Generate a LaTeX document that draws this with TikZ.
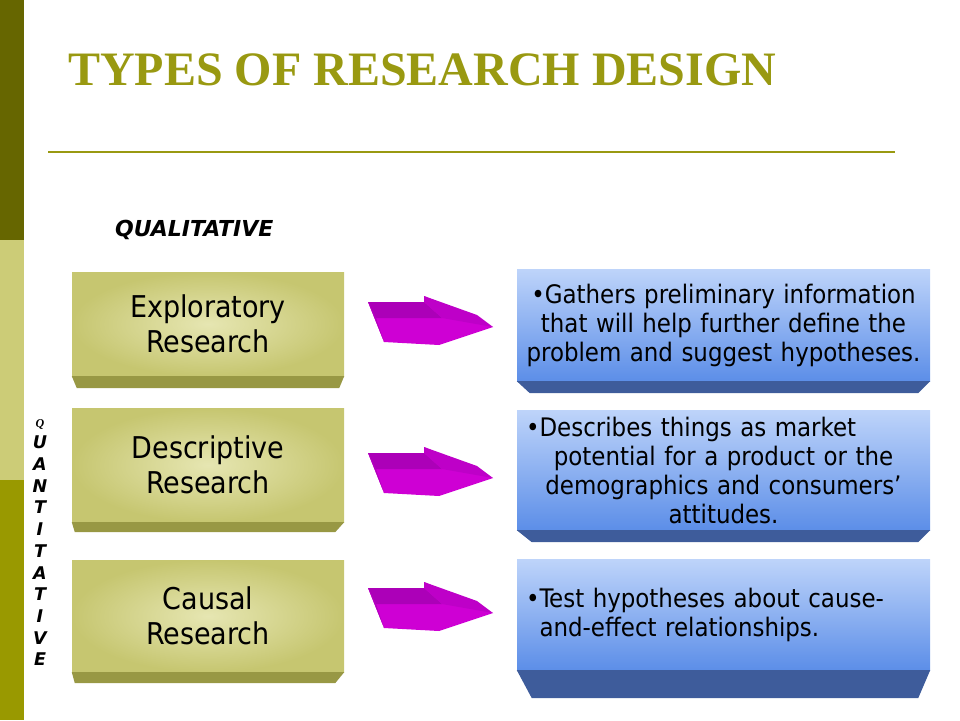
\documentclass[tikz,border=0pt]{standalone}
\usepackage{fontspec}
\setmainfont{DejaVu Sans Condensed}
\newfontfamily\titlefont{Liberation Serif}
\newfontfamily\labelfont{DejaVu Sans}
\newfontfamily\qfont{Liberation Serif}
\usepackage{xcolor}
\usepackage{tikz}
\definecolor{olivedark}{RGB}{102,102,0}
\definecolor{olivelight}{RGB}{204,204,119}
\definecolor{olivemid}{RGB}{153,153,0}
\definecolor{titleolive}{RGB}{153,153,17}
\definecolor{faceout}{RGB}{198,198,112}
\definecolor{facein}{RGB}{230,230,178}
\definecolor{bevelolive}{RGB}{152,152,68}
\definecolor{bluetop}{RGB}{190,212,250}
\definecolor{bluebot}{RGB}{92,142,232}
\definecolor{bluebevel}{RGB}{62,92,155}
\definecolor{magfront}{RGB}{206,0,212}
\definecolor{magtop}{RGB}{172,0,184}
\definecolor{maghead}{RGB}{190,0,200}

\begin{document}
\begin{tikzpicture}[x=1pt, y=-1pt,
    leftbox/.style={rectangle, shading=radial, inner color=facein, outer color=faceout, minimum width=272pt, inner sep=0pt, align=center, font=\fontsize{30}{35}\selectfont},
    rightbox/.style={rectangle, top color=bluetop, bottom color=bluebot, minimum width=413pt, text width=395pt, inner sep=0pt, font=\fontsize{25.5}{29}\selectfont},
    leftbevel/.style={fill=bevelolive},
    rightbevel/.style={fill=bluebevel},
    magarrow/.pic={
        \fill[magfront] (0,6) -- (56,6) -- (56,0) -- (125,31) -- (71,49) -- (16,46) -- cycle;
        \fill[magtop] (0,6) -- (56,6) -- (74,22) -- (8,22) -- cycle;
        \fill[maghead] (56,0) -- (109,19) -- (125,31) -- (74,22) -- (56,6) -- cycle;
        \fill[magtop!80!magfront] (0,6) -- (8,22) -- (16,46) -- cycle;
    }
]
    \useasboundingbox (0,0) rectangle (960,720);
    % side bar
    \fill[olivedark] (0,0) rectangle (24,240);
    \fill[olivelight] (0,240) rectangle (24,480);
    \fill[olivemid] (0,480) rectangle (24,720);

    % title
    \node[anchor=base west, inner sep=0pt, text=titleolive, font=\titlefont\bfseries\fontsize{48}{50}\selectfont] (title) at (68,85) {TYPES OF RESEARCH DESIGN};
    \draw[titleolive, line width=2.5pt] (48,152) -- (895,152);

    \node[anchor=base west, inner sep=0pt, font=\labelfont\bfseries\itshape\fontsize{22}{24}\selectfont] (qual) at (115,236) {QUALITATIVE};
    \node[anchor=north, inner sep=0pt, align=center, font=\labelfont\bfseries\itshape\fontsize{17.5}{21.7}\selectfont] (quant) at (40,419)
        {{\qfont\fontsize{12}{21.7}\selectfont Q}\\U\\A\\N\\T\\I\\T\\A\\T\\I\\V\\E};

    % left boxes
    \node[leftbox, minimum height=104pt] (expl) at (208,324) {Exploratory\\Research};
    \node[leftbox, minimum height=114pt] (desc) at (208,465) {Descriptive\\Research};
    \node[leftbox, minimum height=112pt] (caus) at (208,616) {Causal\\Research};
    \fill[leftbevel] (expl.south west) -- (expl.south east) -- ([xshift=-5pt,yshift=-12pt]expl.south east) -- ([xshift=5pt,yshift=-12pt]expl.south west) -- cycle;
    \fill[leftbevel] (desc.south west) -- (desc.south east) -- ([xshift=-9pt,yshift=-10pt]desc.south east) -- ([xshift=3pt,yshift=-10pt]desc.south west) -- cycle;
    \fill[leftbevel] (caus.south west) -- (caus.south east) -- ([xshift=-9pt,yshift=-11pt]caus.south east) -- ([xshift=3pt,yshift=-11pt]caus.south west) -- cycle;

    % right boxes
    \node[rightbox, align=center, minimum height=112pt] (gath) at (723.5,325) {•Gathers preliminary information\\that will help further define the\\problem and suggest hypotheses.\\[3pt]};
    \node[rightbox, align=center, minimum height=120pt] (descr) at (723.5,470) {\makebox[\linewidth][l]{•Describes things as market}\\potential for a product or the\\demographics and consumers’\\attitudes.};
    \node[rightbox, align=left, minimum height=111pt] (test) at (723.5,614.5) {•Test hypotheses about cause-\\\phantom{•}and-effect relationships.};
    \fill[rightbevel] (gath.south west) -- (gath.south east) -- ([xshift=-12pt,yshift=-12pt]gath.south east) -- ([xshift=13pt,yshift=-12pt]gath.south west) -- cycle;
    \fill[rightbevel] (descr.south west) -- (descr.south east) -- ([xshift=-12pt,yshift=-12pt]descr.south east) -- ([xshift=15pt,yshift=-12pt]descr.south west) -- cycle;
    \fill[rightbevel] (test.south west) -- (test.south east) -- ([xshift=-12pt,yshift=-28pt]test.south east) -- ([xshift=15pt,yshift=-28pt]test.south west) -- cycle;

    % arrows
    \pic (arr1) at (368,296) {magarrow};
    \pic (arr2) at (368,447) {magarrow};
    \pic (arr3) at (368,582) {magarrow};
\end{tikzpicture}
\end{document}
